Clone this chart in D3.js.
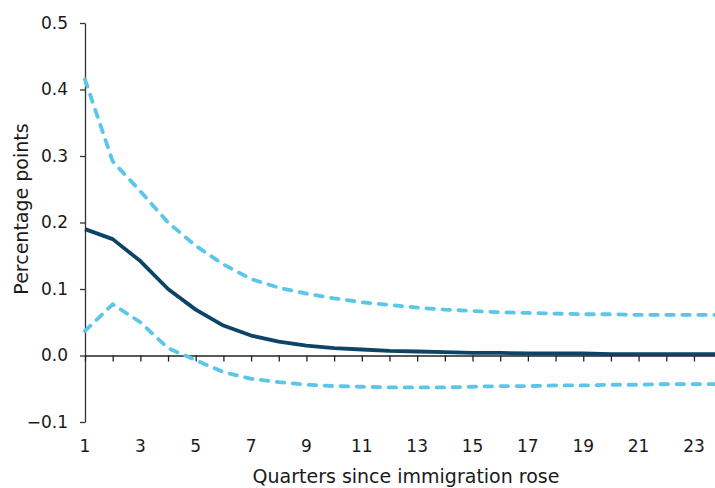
<!DOCTYPE html>
<html>
<head>
<meta charset="utf-8">
<script src="https://cdn.jsdelivr.net/npm/d3@7"></script>
<style>
  body { margin: 0; background: #fff; }
  svg { display: block; font-family: "DejaVu Sans", Verdana, sans-serif; }
</style>
</head>
<body>
<svg id="chart"></svg>
<script>
// quarters since immigration rose
const quarters = d3.range(1, 25);
// central estimate, percentage points
const central = [0.190, 0.175, 0.142, 0.100, 0.069, 0.045, 0.030, 0.021, 0.015, 0.011,
                 0.009, 0.007, 0.006, 0.005, 0.004, 0.004, 0.003, 0.003, 0.003, 0.002,
                 0.002, 0.002, 0.002, 0.002];
// upper band
const upper = [0.415, 0.292, 0.247, 0.200, 0.165, 0.137, 0.115, 0.102, 0.093, 0.086,
               0.080, 0.076, 0.072, 0.069, 0.067, 0.065, 0.064, 0.063, 0.062, 0.062,
               0.061, 0.061, 0.061, 0.061];
// lower band
const lower = [0.037, 0.077, 0.050, 0.011, -0.007, -0.025, -0.035, -0.040, -0.044, -0.046,
               -0.047, -0.048, -0.048, -0.048, -0.047, -0.046, -0.046, -0.045, -0.045, -0.044,
               -0.044, -0.043, -0.043, -0.043];
const yTicks = [-0.1, 0.0, 0.1, 0.2, 0.3, 0.4, 0.5];
const xTicks = [1, 3, 5, 7, 9, 11, 13, 15, 17, 19, 21, 23];

const width = 715, height = 488;
const margin = {top: 23, right: 0, bottom: 66, left: 85};

const svg = d3.select("#chart")
  .attr("width", width)
  .attr("height", height);

const x = d3.scaleLinear()
  .domain([1, 24])
  .range([margin.left, margin.left + 23 * 27.68]);

const y = d3.scaleLinear()
  .domain([-0.1, 0.5])
  .range([height - margin.bottom, margin.top]);

// y axis
const yAxis = g => g
  .attr("transform", `translate(${margin.left},0)`)
  .call(d3.axisLeft(y).tickValues(yTicks).tickFormat(d3.format(".1f")).tickSize(5).tickSizeOuter(0))
  .call(g => g.selectAll("line, path").attr("stroke", "#333").attr("stroke-width", 1.3))
  .call(g => g.selectAll("text").attr("font-size", 17).attr("fill", "#1a1a1a")
      .attr("font-family", "DejaVu Sans, Verdana, sans-serif").attr("x", -17));

// x axis sits on zero
const xAxis = g => g
  .attr("transform", `translate(0,${y(0)})`)
  .call(d3.axisBottom(x).tickValues(d3.range(1, 25)).tickFormat("").tickSize(6).tickSizeOuter(0))
  .call(g => g.selectAll("line, path").attr("stroke", "#222").attr("stroke-width", 1.3));

svg.append("g").call(yAxis);
svg.append("g").call(xAxis);

// x tick labels along the bottom
svg.append("g")
  .attr("font-size", 17)
  .attr("fill", "#1a1a1a")
  .attr("text-anchor", "middle")
  .selectAll("text")
  .data(xTicks)
  .join("text")
  .attr("x", d => x(d))
  .attr("y", 452)
  .text(d => d);

const line = d3.line()
  .x((d, i) => x(quarters[i]))
  .y(d => y(d));

[upper, lower].forEach(band => {
  svg.append("path")
    .datum(band)
    .attr("fill", "none")
    .attr("stroke", "#5bc6e8")
    .attr("stroke-width", 3.8)
    .attr("stroke-linecap", "round")
    .attr("stroke-dasharray", "7.5,8.5")
    .attr("d", line);
});

svg.append("path")
  .datum(central)
  .attr("fill", "none")
  .attr("stroke", "#0b4466")
  .attr("stroke-width", 3.8)
  .attr("stroke-linejoin", "round")
  .attr("d", line);

// axis titles
svg.append("text")
  .attr("transform", "translate(28,209) rotate(-90)")
  .attr("text-anchor", "middle")
  .attr("font-size", 19)
  .attr("fill", "#1a1a1a")
  .text("Percentage points");

svg.append("text")
  .attr("x", 406)
  .attr("y", 483)
  .attr("text-anchor", "middle")
  .attr("font-size", 19)
  .attr("fill", "#1a1a1a")
  .text("Quarters since immigration rose");
</script>
</body>
</html>
